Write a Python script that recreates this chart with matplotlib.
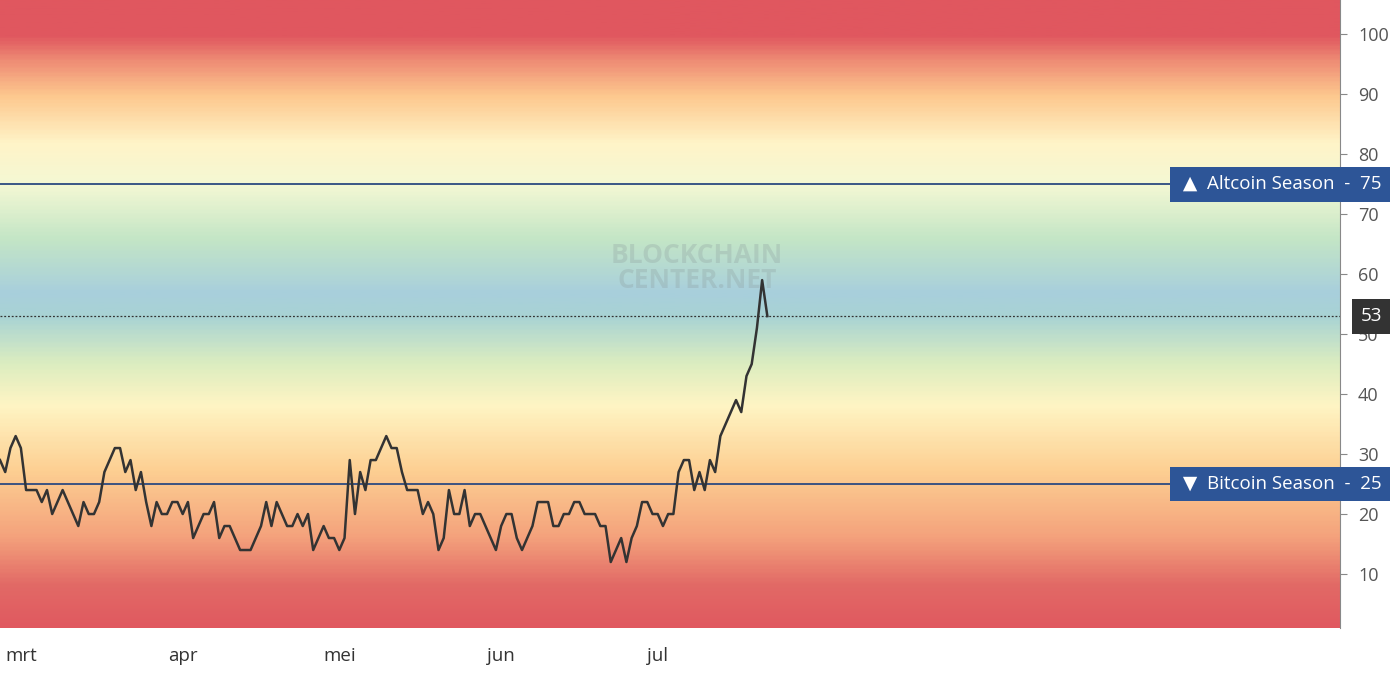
import numpy as np
import matplotlib
matplotlib.use('Agg')
import matplotlib.pyplot as plt
from matplotlib.colors import LinearSegmentedColormap
import datetime as dt
import matplotlib.dates as mdates

plt.rcParams['font.family'] = ['Open Sans', 'DejaVu Sans']

# daily index values starting 26 Feb
start = dt.date(2019, 2, 26)
index_vals = [29, 27, 31, 33, 31, 24, 24, 24, 22, 24, 20, 22, 24, 22, 20, 18, 22, 20, 20, 22,
              27, 29, 31, 31, 27, 29, 24, 27, 22, 18, 22, 20, 20, 22, 22, 20, 22, 16, 18, 20,
              20, 22, 16, 18, 18, 16, 14, 14, 14, 16, 18, 22, 18, 22, 20, 18, 18, 20, 18, 20,
              14, 16, 18, 16, 16, 14, 16, 29, 20, 27, 24, 29, 29, 31, 33, 31, 31, 27, 24, 24,
              24, 20, 22, 20, 14, 16, 24, 20, 20, 24, 18, 20, 20, 18, 16, 14, 18, 20, 20, 16,
              14, 16, 18, 22, 22, 22, 18, 18, 20, 20, 22, 22, 20, 20, 20, 18, 18, 12, 14, 16,
              12, 16, 18, 22, 22, 20, 20, 18, 20, 20, 27, 29, 29, 24, 27, 24, 29, 27, 33, 35,
              37, 39, 37, 43, 45, 51, 59, 53]
dates = [start + dt.timedelta(days=i) for i in range(len(index_vals))]
month_ticks = [dt.date(2019, m, 1) for m in (3, 4, 5, 6, 7)]
month_labels = ['mrt', 'apr', 'mei', 'jun', 'jul']
ytick_vals = [10, 20, 30, 40, 50, 60, 70, 80, 90, 100]
altcoin_level = 75
bitcoin_level = 25
current = 53

fig = plt.figure(figsize=(13.96, 6.75), dpi=100)
ax = fig.add_axes([0, 47 / 675, 1340 / 1396, 628 / 675])

x0 = mdates.date2num(start)
x1 = x0 + 256.7
y0, y1 = 1, 105.7
ax.set_xlim(x0, x1)
ax.set_ylim(y0, y1)

# background gradient by value
stops = [(0.0, '#e0575f'), (8 / 106, '#e26a66'), (16 / 106, '#f4a27c'), (27 / 106, '#fdcf92'),
         (38 / 106, '#fff5c4'), (45 / 106, '#dcedc0'), (53 / 106, '#a8d3d4'), (57 / 106, '#a8cfdc'),
         (66 / 106, '#c4e6c6'), (75 / 106, '#f4f8d4'), (82 / 106, '#fff4c8'), (90 / 106, '#fdc88e'),
         (96 / 106, '#ee8a74'), (100 / 106, '#e0575f'), (1.0, '#e0575f')]
cmap = LinearSegmentedColormap.from_list('bg', stops)
grad = np.linspace(0, 106, 400).reshape(-1, 1)
ax.imshow(grad, cmap=cmap, aspect='auto', origin='lower', extent=[x0, x1, 0, 106],
          vmin=0, vmax=106, zorder=0)

ax.axhline(altcoin_level, color='#2c4a80', lw=1.3, zorder=2)
ax.axhline(bitcoin_level, color='#2c4a80', lw=1.3, zorder=2)
ax.axhline(current, color='#333333', lw=0.9, ls=(0, (1.5, 1.5)), zorder=2)

ax.text(x0 + 0.52 * (x1 - x0), 61, 'BLOCKCHAIN\nCENTER.NET', ha='center', va='center',
        fontsize=19, fontweight='bold', color='#8a9a9a', alpha=0.28, linespacing=0.9, zorder=1)

ax.plot(mdates.date2num(dates), index_vals, color='#333333', lw=1.8, zorder=3)

ax.set_xticks(mdates.date2num(month_ticks) + 1.0)
ax.set_xticklabels(month_labels, fontsize=13.5, color='#333333')
ax.tick_params(axis='x', length=0, pad=14)
ax.yaxis.tick_right()
ax.set_yticks(ytick_vals)
ax.set_yticklabels([str(v) for v in ytick_vals], fontsize=13, color='#555555')
ax.tick_params(axis='y', length=5, color='#888888', pad=8)
for s in ('top', 'left', 'bottom'):
    ax.spines[s].set_visible(False)
ax.spines['right'].set_color('#888888')

# right-hand labels
def tag(y, text, fc, right=1382 / 1340):
    ax.text(right, y, text, transform=ax.get_yaxis_transform(), ha='right', va='center',
            fontsize=13.5, color='white', zorder=5, clip_on=False,
            bbox=dict(boxstyle='square,pad=0.45', fc=fc, ec='none'))

tag(altcoin_level, ' ▲  Altcoin Season  -  75', '#2d5597')
tag(bitcoin_level, ' ▼  Bitcoin Season  -  25', '#2d5597')
tag(current, '53', '#333333')

fig.savefig('out.png', dpi=100)
